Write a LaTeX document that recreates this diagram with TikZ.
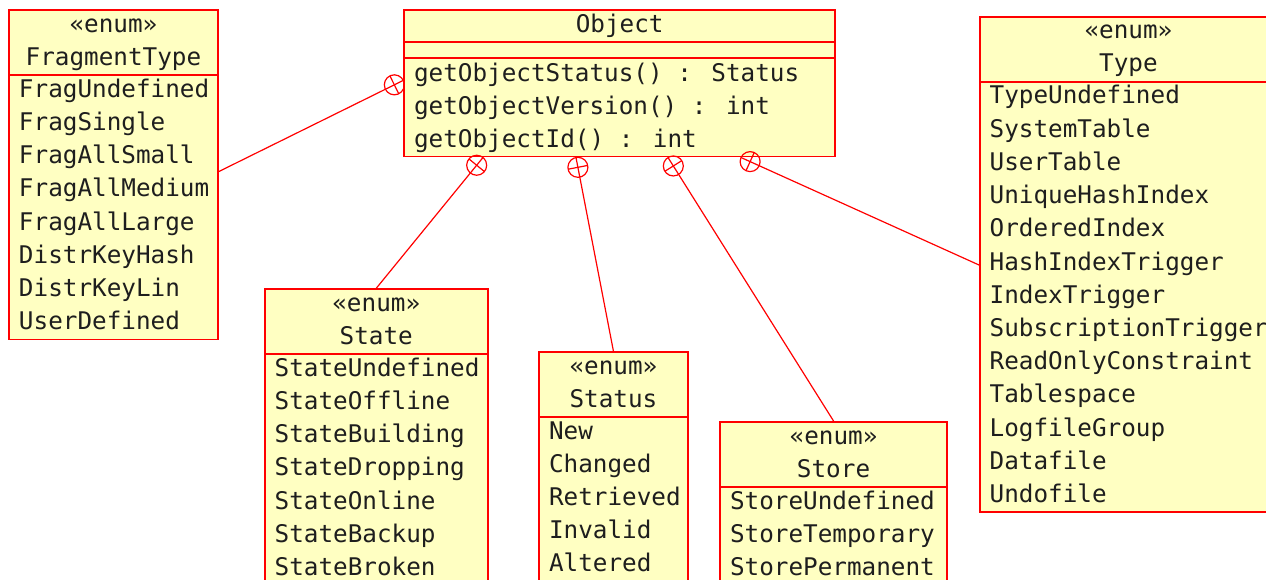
\documentclass[tikz,border=0pt]{standalone}
\usepackage{fontspec}
\newfontfamily\umlfont{DejaVu Sans Mono}
\usetikzlibrary{calc}
\definecolor{boxfill}{RGB}{255,255,194}
\definecolor{umlred}{RGB}{255,0,0}
\definecolor{umltext}{RGB}{30,30,30}
\tikzset{
  umlbox/.style={draw=umlred, fill=boxfill, line width=1.8pt, inner sep=0pt, anchor=north west},
  divider/.style={draw=umlred, line width=1.8pt},
  conn/.style={draw=umlred, line width=1.2pt},
  umltxt/.style={inner sep=0pt, text=umltext, font=\umlfont\fontsize{24.3}{33.2}\selectfont},
  itemtxt/.style={umltxt, anchor=base west},
  headtxt/.style={umltxt, anchor=base},
}
\newcommand\nestmark[2]{%
  \draw[conn] (#1) -- (#2);
  \coordinate (#1c) at ($(#1)!10pt!(#2)$);
  \draw[conn] (#1c) circle[radius=10];
  \draw[conn] ($(#1c)!10pt!90:(#2)$) -- ($(#1c)!10pt!-90:(#2)$);
}
\begin{document}
\begin{tikzpicture}[x=1pt,y=-1pt]
\useasboundingbox (0,0) rectangle (1266,580);
\clip (0,0) rectangle (1266,580);

% ---------------- FragmentType
\node[umlbox, minimum width=208.4pt, minimum height=329.2pt] (frag) at (8.3,9.3) {};
\draw[divider] ($(frag.north west)+(0,66)$) -- ($(frag.north east)+(0,66)$);
\node[headtxt] (frag-st) at ($(frag.north)+(0,23)$) {«enum»};
\node[headtxt] (frag-nm) at ($(frag.north)+(0,56)$) {FragmentType};
\foreach \t [count=\i from 0] in {FragUndefined,FragSingle,FragAllSmall,FragAllMedium,FragAllLarge,DistrKeyHash,DistrKeyLin,UserDefined}
  \node[itemtxt] (frag-\i) at ($(frag.north west)+(10.5,88+33.2*\i)$) {\t};

% ---------------- Object
\node[umlbox, minimum width=431pt, minimum height=146.4pt] (obj) at (403.3,9.3) {};
\draw[divider] ($(obj.north west)+(0,33)$) -- ($(obj.north east)+(0,33)$);
\draw[divider] ($(obj.north west)+(0,49)$) -- ($(obj.north east)+(0,49)$);
\node[headtxt] (obj-nm) at ($(obj.north)+(0,23)$) {Object};
\foreach \t [count=\i from 0] in {getObjectStatus() : Status,getObjectVersion() : int,getObjectId() : int}
  \node[itemtxt] (obj-\i) at ($(obj.north west)+(10.5,72+33.2*\i)$) {\t};

% ---------------- Type
\node[umlbox, minimum width=297pt, minimum height=495pt] (type) at (979,16) {};
\draw[divider] ($(type.north west)+(0,66)$) -- ($(type.north east)+(0,66)$);
\node[headtxt] (type-st) at ($(type.north)+(0,23)$) {«enum»};
\node[headtxt] (type-nm) at ($(type.north)+(0,56)$) {Type};
\foreach \t [count=\i from 0] in {TypeUndefined,SystemTable,UserTable,UniqueHashIndex,OrderedIndex,HashIndexTrigger,IndexTrigger,SubscriptionTrigger,ReadOnlyConstraint,Tablespace,LogfileGroup,Datafile,Undofile}
  \node[itemtxt] (type-\i) at ($(type.north west)+(10.5,88+33.2*\i)$) {\t};

% ---------------- State
\node[umlbox, minimum width=222.7pt, minimum height=320pt] (state) at (264,288.3) {};
\draw[divider] ($(state.north west)+(0,66)$) -- ($(state.north east)+(0,66)$);
\node[headtxt] (state-st) at ($(state.north)+(0,23)$) {«enum»};
\node[headtxt] (state-nm) at ($(state.north)+(0,56)$) {State};
\foreach \t [count=\i from 0] in {StateUndefined,StateOffline,StateBuilding,StateDropping,StateOnline,StateBackup,StateBroken}
  \node[itemtxt] (state-\i) at ($(state.north west)+(10.5,88+33.2*\i)$) {\t};

% ---------------- Status
\node[umlbox, minimum width=148.4pt, minimum height=260pt] (status) at (538.3,351) {};
\draw[divider] ($(status.north west)+(0,66)$) -- ($(status.north east)+(0,66)$);
\node[headtxt] (status-st) at ($(status.north)+(0,23)$) {«enum»};
\node[headtxt] (status-nm) at ($(status.north)+(0,56)$) {Status};
\foreach \t [count=\i from 0] in {New,Changed,Retrieved,Invalid,Altered}
  \node[itemtxt] (status-\i) at ($(status.north west)+(10.5,88+33.2*\i)$) {\t};

% ---------------- Store
\node[umlbox, minimum width=226.7pt, minimum height=200pt] (store) at (719.3,421) {};
\draw[divider] ($(store.north west)+(0,66)$) -- ($(store.north east)+(0,66)$);
\node[headtxt] (store-st) at ($(store.north)+(0,23)$) {«enum»};
\node[headtxt] (store-nm) at ($(store.north)+(0,56)$) {Store};
\foreach \t [count=\i from 0] in {StoreUndefined,StoreTemporary,StorePermanent}
  \node[itemtxt] (store-\i) at ($(store.north west)+(10.5,88+33.2*\i)$) {\t};

% ---------------- nesting connectors
\coordinate (pf) at ($(obj.north west)+(0,71.1)$);
\coordinate (qf) at ($(frag.north east)+(0,162.4)$);
\coordinate (ps) at ($(obj.south west)+(79.7,0)$);
\coordinate (qs) at (state.north);
\coordinate (pu) at ($(obj.south west)+(172.7,0)$);
\coordinate (qu) at (status.north);
\coordinate (pr) at ($(obj.south west)+(264.7,0)$);
\coordinate (qr) at (store.north);
\coordinate (pt) at ($(obj.south west)+(337.7,0)$);
\coordinate (qt) at ($(type.north west)+(0,249)$);
\nestmark{pf}{qf}
\nestmark{ps}{qs}
\nestmark{pu}{qu}
\nestmark{pr}{qr}
\nestmark{pt}{qt}
\end{tikzpicture}
\end{document}
